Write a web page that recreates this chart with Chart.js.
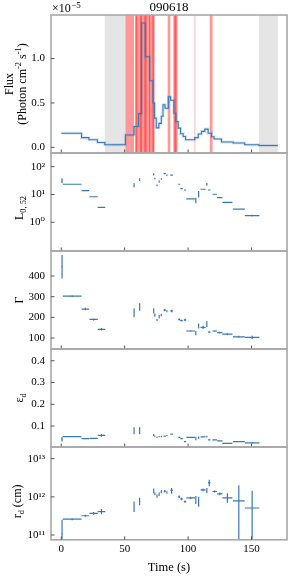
<!DOCTYPE html>
<html>
<head>
<meta charset="utf-8">
<script src="https://cdn.jsdelivr.net/npm/chart.js@4.4.0/dist/chart.umd.min.js"></script>
<style>
  html, body { margin: 0; padding: 0; background: #fff; }
  #wrap { position: relative; width: 292px; height: 579px; overflow: hidden; }
  canvas { position: absolute; left: 0; }
</style>
</head>
<body>
<div id="wrap">
  <canvas id="fluxChart" width="292" height="156" style="top:0px"></canvas>
  <canvas id="lumChart" width="292" height="104" style="top:150px"></canvas>
  <canvas id="gammaChart" width="292" height="104" style="top:248px"></canvas>
  <canvas id="epsChart" width="292" height="104" style="top:346px"></canvas>
  <canvas id="radiusChart" width="292" height="135" style="top:444px"></canvas>
</div>
<script>
// light curve (step histogram), flux in units of 1e-5 photon cm^-2 s^-1
const fluxTime = [0, 16, 21.8, 28.5, 34.3, 50.6, 57.4, 61, 63.4, 66.3, 69.7, 72.3, 73.6, 74.9, 77, 78.9, 80.2, 81.8, 84.4, 86.2, 88.8, 90.4, 92.2, 94.1, 96.2, 98, 105.3, 108, 110.6, 113.2, 115.8, 118.5, 120.5, 126.3, 135.5, 144.7, 155.9, 170.8]
const flux = [0.16, 0.11, 0.086, 0.056, 0.03, 0.14, 0.235, 0.38, 1.40, 1.02, 0.75, 0.5, 0.33, 0.22, 0.27, 0.35, 0.48, 0.44, 0.57, 0.53, 0.385, 0.29, 0.217, 0.153, 0.123, 0.086, 0.11, 0.15, 0.18, 0.206, 0.16, 0.12, 0.094, 0.06, 0.049, 0.03, 0.022, 0.022]

// shaded intervals (s)
const greyBands = [[34.3, 50.6], [155.9, 170.8]]
const redBands = [[50.6, 57.4], [58.4, 63.7], [62.0, 67.3], [65.4, 70.2], [69.2, 73.4], [71.8, 73.4], [58.4, 60.0], [83.9, 86.0], [88.3, 91.7], [89.2, 90.8], [117.1, 119.3]]
const paleBands = [[104.8, 105.9]]

// time-resolved fit results
const timeMid = [0.6, 8.6, 19, 25.5, 31.7, 57.4, 61.8, 72.9, 73.8, 75.5, 77.2, 78.9, 81.6, 83.3, 87, 93, 94.8, 97.6, 102, 106.1, 108.3, 111.8, 114.8, 116.7, 121, 125, 131, 140, 150.5]
const timeHalf = [0.6, 7.4, 3, 3.3, 3, 0.4, 0.4, 0.3, 0.3, 0.3, 0.4, 0.4, 0.9, 0.4, 1.0, 0.8, 1.0, 0.9, 3.4, 0.4, 0.4, 2.0, 0.4, 1.0, 1.8, 2.1, 4.0, 4.7, 5.7]

const lum = [31, 23.3, 13.7, 8.3, 3.46, 21.4, 34, 53, 37.6, 21.4, 28.9, 36, 56, 49, 50, 23.3, 16.2, 14.5, 6.9, 6.1, 10.2, 15.4, 23.3, 14.5, 10.2, 7.7, 5.2, 3.0, 1.73]
const lumErrDex = [0.09, 0.015, 0.015, 0.015, 0.02, 0.07, 0.05, 0.04, 0.03, 0.03, 0.04, 0.03, 0.02, 0.03, 0.02, 0.02, 0.02, 0.02, 0.02, 0.1, 0.12, 0.02, 0.05, 0.02, 0.02, 0.02, 0.02, 0.02, 0.03]

const gamma = [445, 303, 240, 190, 142, 222, 250, 232, 211, 187, 203, 211, 235, 230, 231, 190, 184, 188, 134, 124, 158, 152, 168, 129, 134, 126, 119, 106, 103]
const gammaErr = [57, 4, 6, 5, 6, 22, 18, 12, 8, 5, 8, 6, 5, 5, 6, 5, 4, 5, 4, 10, 12, 8, 14, 4, 4, 4, 4, 5, 8]

const eps = [0.04, 0.051, 0.042, 0.043, 0.057, 0.078, 0.078, 0.059, 0.054, 0.048, 0.051, 0.052, 0.054, 0.056, 0.063, 0.048, 0.042, 0.028, 0.048, 0.043, 0.046, 0.05, 0.051, 0.036, 0.036, 0.032, 0.02, 0.028, 0.023]
const epsErr = [0.011, 0.002, 0.002, 0.002, 0.006, 0.016, 0.016, 0.005, 0.003, 0.003, 0.003, 0.003, 0.002, 0.003, 0.003, 0.002, 0.002, 0.003, 0.002, 0.008, 0.006, 0.003, 0.004, 0.002, 0.002, 0.002, 0.002, 0.003, 0.004]

const radius = [1.05e11, 2.6e11, 3.2e11, 3.7e11, 4.1e11, 5.7e11, 7.5e11, 1.47e12, 1.2e12, 1.04e12, 1.18e12, 1.38e12, 1.4e12, 1.3e12, 1.47e12, 1.0e12, 8.8e11, 7.5e11, 9.4e11, 8.4e11, 7.5e11, 1.52e12, 1.47e12, 2.35e12, 1.38e12, 1.2e12, 9.4e11, 7.8e11, 5.1e11]
const radiusLo = [0.7e11, 2.45e11, 3.0e11, 3.4e11, 3.5e11, 4.0e11, 6.0e11, 1.25e12, 1.1e12, 0.95e12, 1.05e12, 1.25e12, 1.3e12, 1.2e12, 1.2e12, 0.93e12, 0.82e12, 0.7e12, 0.88e12, 6.5e11, 5.5e11, 1.4e12, 1.25e12, 1.9e12, 1.3e12, 1.1e12, 7.0e11, 5e10, 5e10]
const radiusHi = [2.5e11, 2.75e11, 3.4e11, 4.0e11, 4.8e11, 7.5e11, 9.5e11, 1.65e12, 1.3e12, 1.15e12, 1.3e12, 1.5e12, 1.5e12, 1.4e12, 1.7e12, 1.08e12, 0.95e12, 0.8e12, 1.0e12, 1.05e12, 1.0e12, 1.65e12, 1.7e12, 2.8e12, 1.48e12, 1.3e12, 1.25e12, 2.0e12, 1.45e12]

const timeTicks = [0, 50, 100, 150]
const fluxTicks = [0, 0.5, 1.0]
const lumTicks = [1, 10, 100]
const gammaTicks = [100, 200, 300, 400]
const epsTicks = [0.1, 0.2, 0.3, 0.4]
const radiusTicks = [1e11, 1e12, 1e13]

const BLUE = "#3579b8"
const SERIF = "'Liberation Serif', 'DejaVu Serif', serif"
Chart.defaults.font.family = SERIF
Chart.defaults.font.size = 11
Chart.defaults.color = "#000"
Chart.defaults.animation = false

const SUP = { "0": "⁰", "1": "¹", "2": "²", "3": "³", "-": "⁻" }
const powerLabel = v => "10" + String(Math.round(Math.log10(v))).split("").map(c => SUP[c]).join("")

// draws text made of normal / sub / sup parts, rotated to read upwards
function drawRotated(ctx, x, y, parts, size) {
  const small = size * 0.7
  ctx.save()
  ctx.translate(x, y)
  ctx.rotate(-Math.PI / 2)
  ctx.textBaseline = "middle"
  ctx.textAlign = "left"
  let total = 0
  parts.forEach(p => {
    ctx.font = (p[1] ? small : size) + "px " + SERIF
    total += ctx.measureText(p[0]).width
  })
  let u = -total / 2
  parts.forEach(p => {
    ctx.font = (p[1] ? small : size) + "px " + SERIF
    const v = p[1] === "sub" ? size * 0.3 : p[1] === "sup" ? -size * 0.35 : 0
    ctx.fillStyle = "#000"
    ctx.fillText(p[0], u, v)
    u += ctx.measureText(p[0]).width
  })
  ctx.restore()
}

const bands = {
  id: "bands",
  beforeDatasetsDraw(chart, args, opts) {
    if (!opts.show) return
    const { ctx, chartArea: a, scales: { x } } = chart
    ctx.save()
    ctx.beginPath()
    ctx.rect(a.left, a.top, a.width, a.height)
    ctx.clip()
    const fill = (list, color) => list.forEach(b => {
      const x0 = x.getPixelForValue(b[0]), x1 = x.getPixelForValue(b[1])
      ctx.fillStyle = color
      ctx.fillRect(x0, a.top, x1 - x0, a.height)
    })
    fill(greyBands, "#e5e5e5")
    fill(redBands, "rgba(255, 0, 0, 0.4)")
    fill(paleBands, "rgba(255, 0, 0, 0.2)")
    ctx.restore()
  }
}

const errorBars = {
  id: "errorBars",
  afterDatasetsDraw(chart) {
    const { ctx, chartArea: a, scales: { x, y } } = chart
    ctx.save()
    ctx.beginPath()
    ctx.rect(a.left, a.top, a.width, a.height)
    ctx.clip()
    ctx.strokeStyle = BLUE
    ctx.lineWidth = 1.2
    chart.data.datasets.forEach(ds => {
      if (!ds.errorBars) return
      ds.data.forEach(p => {
        const px = x.getPixelForValue(p.x), py = y.getPixelForValue(p.y)
        ctx.beginPath()
        ctx.moveTo(x.getPixelForValue(p.xLo), py)
        ctx.lineTo(x.getPixelForValue(p.xHi), py)
        ctx.moveTo(px, y.getPixelForValue(p.yLo))
        ctx.lineTo(px, y.getPixelForValue(p.yHi))
        ctx.stroke()
      })
    })
    ctx.restore()
  }
}

const frame = {
  id: "frame",
  afterDraw(chart, args, opts) {
    const { ctx, chartArea: a, scales: { x, y } } = chart
    ctx.save()
    ctx.strokeStyle = "#a8a8a8"
    ctx.lineWidth = 1.6
    ctx.strokeRect(a.left, a.top, a.width, a.height)
    ctx.beginPath()
    y.ticks.forEach(t => {
      const py = y.getPixelForValue(t.value)
      ctx.moveTo(a.left, py)
      ctx.lineTo(a.left + 3.5, py)
    })
    timeTicks.forEach(v => {
      const px = x.getPixelForValue(v)
      ctx.moveTo(px, a.bottom)
      ctx.lineTo(px, a.bottom - 3.5)
    })
    ctx.strokeStyle = "#555"
    ctx.lineWidth = 1
    ctx.stroke()
    const cy = (a.top + a.bottom) / 2
    ;(opts.label || []).forEach(l => drawRotated(ctx, l.x, cy + (l.dy || 0), l.parts, 12))
    if (opts.header) {
      ctx.fillStyle = "#000"
      ctx.textBaseline = "middle"
      ctx.textAlign = "center"
      ctx.font = "13px " + SERIF
      ctx.fillText("090618", (a.left + a.right) / 2, 8)
      // offset multiplier: "×10" with a raised "−5"
      ctx.textAlign = "left"
      ctx.textBaseline = "alphabetic"
      ctx.font = "12px " + SERIF
      ctx.fillText("×10", a.left + 1, 12)
      const w = ctx.measureText("×10").width
      ctx.font = "9px " + SERIF
      ctx.fillText("−5", a.left + 1 + w + 0.5, 7.5)
    }
    ctx.restore()
  }
}

function yAxis(type, min, max, ticks, fmt) {
  return {
    type: type,
    min: min,
    max: max,
    afterFit: s => { s.width = 51; s.paddingTop = 0; s.paddingBottom = 0 },
    afterBuildTicks: s => { s.ticks = ticks.map(v => ({ value: v })) },
    grid: { display: false, drawTicks: false },
    border: { display: false },
    ticks: { padding: 6, callback: fmt, autoSkip: false, font: { size: 11 } }
  }
}

function xAxis(show) {
  return {
    type: "linear",
    min: -8.1,
    max: 178,
    display: show,
    afterFit: s => { s.paddingLeft = 0; s.paddingRight = 0 },
    afterBuildTicks: s => { s.ticks = timeTicks.map(v => ({ value: v })) },
    grid: { display: false, drawTicks: false },
    border: { display: false },
    ticks: { padding: 3, autoSkip: false, maxRotation: 0 },
    title: { display: show, text: "Time (s)", font: { size: 12.5 }, padding: { top: 1, bottom: 3 } }
  }
}

function points(vals, lo, hi) {
  return timeMid.map((t, i) => ({
    x: t, y: vals[i],
    xLo: t - timeHalf[i], xHi: t + timeHalf[i],
    yLo: lo[i], yHi: hi[i]
  }))
}

function panel(id, datasets, y, opts) {
  new Chart(document.getElementById(id), {
    type: "scatter",
    data: { datasets: datasets },
    options: {
      responsive: false,
      layout: { padding: opts.padding },
      scales: { x: xAxis(!!opts.showX), y: y },
      plugins: {
        legend: { display: false },
        tooltip: { enabled: false },
        bands: { show: !!opts.bands },
        frame: { label: opts.label, header: !!opts.header }
      }
    },
    plugins: [bands, errorBars, frame]
  })
}

const errSet = data => ({ data: data, errorBars: true, pointRadius: 0, showLine: false })

// Flux light curve
const lightCurve = fluxTime.map((t, i) => ({ x: t, y: flux[i] }))
panel("fluxChart", [
  { data: lightCurve, showLine: true, stepped: true, borderColor: "rgba(53, 121, 184, 0.18)", borderWidth: 3, pointRadius: 0 },
  { data: lightCurve, showLine: true, stepped: true, borderColor: BLUE, borderWidth: 1.1, pointRadius: 0 }
], yAxis("linear", -0.063, 1.49, fluxTicks, v => v.toFixed(1)), {
  padding: { top: 15, right: 5, bottom: 3, left: 0 },
  bands: true, header: true,
  label: [
    { x: 10, parts: [["Flux"]] },
    { x: 23, parts: [["(Photon cm"], ["-2", "sup"], [" s"], ["-1", "sup"], [")"]] }
  ]
})

// Luminosity
panel("lumChart", [errSet(points(lum, lum.map((v, i) => v / Math.pow(10, lumErrDex[i])), lum.map((v, i) => v * Math.pow(10, lumErrDex[i]))))],
  yAxis("logarithmic", 0.093, 310, lumTicks, powerLabel), {
  padding: { top: 3, right: 5, bottom: 3, left: 0 },
  label: [{ x: 20, dy: 6, parts: [["L"], ["0, 52", "sub"]] }]
})

// Lorentz factor
panel("gammaChart", [errSet(points(gamma, gamma.map((v, i) => v - gammaErr[i]), gamma.map((v, i) => v + gammaErr[i])))],
  yAxis("linear", 47, 521, gammaTicks, v => String(v)), {
  padding: { top: 3, right: 5, bottom: 3, left: 0 },
  label: [{ x: 20, parts: [["Γ"]] }]
})

// epsilon_d
panel("epsChart", [errSet(points(eps, eps.map((v, i) => v - epsErr[i]), eps.map((v, i) => v + epsErr[i])))],
  yAxis("linear", 0.0037, 0.454, epsTicks, v => v.toFixed(1)), {
  padding: { top: 3, right: 5, bottom: 3, left: 0 },
  label: [{ x: 20, parts: [["ε"], ["d", "sub"]] }]
})

// r_d
panel("radiusChart", [errSet(points(radius, radiusLo, radiusHi))],
  yAxis("logarithmic", 7.5e10, 2.02e13, radiusTicks, powerLabel), {
  padding: { top: 3, right: 5, bottom: 1, left: 0 },
  showX: true,
  label: [{ x: 18, dy: 8, parts: [["r"], ["d", "sub"], [" (cm)"]] }]
})
</script>
</body>
</html>
